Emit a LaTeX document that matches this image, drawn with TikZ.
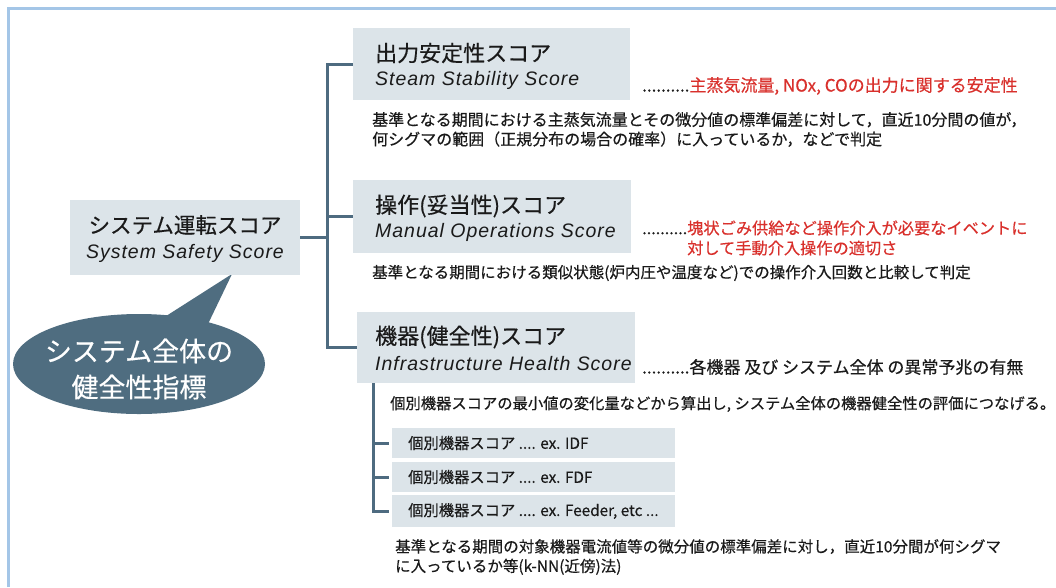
\documentclass[tikz,border=0pt]{standalone}
\usepackage{fontspec}
\setmainfont{Noto Sans CJK JP}[FakeBold=0.4]
\newfontfamily\subfont{Liberation Sans}[LetterSpace=5]
\definecolor{boxfill}{HTML}{DCE4E9}
\definecolor{connc}{HTML}{4E6B80}
\definecolor{callc}{HTML}{4F6D80}
\definecolor{framec}{HTML}{A4C6E7}
\definecolor{redc}{HTML}{D9302C}
\definecolor{textc}{HTML}{1A1A1A}
\tikzset{
  box/.style={fill=boxfill, draw=none, inner sep=0pt},
  conn/.style={draw=connc, line width=3pt},
  titletext/.style={inner sep=0pt, text=textc, font=\fontsize{22}{26}\selectfont},
  subtext/.style={inner sep=0pt, text=textc, font=\subfont\itshape\fontsize{19.5}{23}\selectfont},
  desctext/.style={inner sep=0pt, text=textc, align=left, font=\fontsize{15.5}{19.5}\selectfont},
  notetext/.style={inner sep=0pt, text=textc, align=left, font=\fontsize{17}{20}\selectfont},
  childtext/.style={inner sep=0pt, text=textc, font=\fontsize{15.3}{18}\selectfont},
}
\begin{document}
\begin{tikzpicture}[x=1pt,y=-1pt]
\useasboundingbox (0,0) rectangle (1056,587);
\fill[white] (0,0) rectangle (1056,587);
\draw[draw=framec, line width=2.7pt] (8.7,587) -- (8.7,8.7) -- (1056,8.7);

% callout
\fill[callc] (139,364) ellipse [x radius=126, y radius=50];
\fill[callc] (163,318) -- (232,274) -- (208,324) -- cycle;
\node[inner sep=0pt, text=white, align=center, font=\fontsize{27}{36}\selectfont] (call) at (139,369) {システム全体の\\健全性指標};

% root
\node[box, minimum width=230, minimum height=75] (root) at (185,237.5) {};
\node[titletext, font=\fontsize{21.5}{26}\selectfont] (roott) at (185,225) {システム運転スコア};
\node[subtext] (roots) at (185,253) {System Safety Score};

% boxes
\node[box, minimum width=277, minimum height=72] (b1) at (491.5,64) {};
\node[box, minimum width=278, minimum height=73] (b2) at (492,216.5) {};
\node[box, minimum width=278, minimum height=71] (b3) at (496,347.5) {};

\node[titletext, anchor=west] (b1t) at (375,53) {出力安定性スコア};
\node[subtext, anchor=west] (b1s) at (375,80) {Steam Stability Score};
\node[titletext, anchor=west] (b2t) at (375,206) {操作(妥当性)スコア};
\node[subtext, anchor=west] (b2s) at (375,232) {Manual Operations Score};
\node[titletext, anchor=west] (b3t) at (375,337) {機器(健全性)スコア};
\node[subtext, anchor=west] (b3s) at (375,364) {Infrastructure Health Score};

% notes
\node[notetext, anchor=west] (n1) at (642,86) {..........\textcolor{redc}{主蒸気流量, NOx, COの出力に関する安定性}};
\node[notetext, anchor=west, font=\fontsize{16.2}{20}\selectfont] (n2) at (642,238) {..........\textcolor{redc}{塊状ごみ供給など操作介入が必要なイベントに}\\\hphantom{..........}\textcolor{redc}{対して手動介入操作の適切さ}};
\node[notetext, anchor=west] (n3) at (642,367) {..........各機器 及び システム全体 の異常予兆の有無};

% descriptions
\node[desctext, anchor=west, font=\fontsize{16}{19.5}\selectfont] (d1) at (372,129.5) {基準となる期間における主蒸気流量とその微分値の標準偏差に対して，直近10分間の値が，\\何シグマの範囲（正規分布の場合の確率）に入っているか，などで判定};
\node[desctext, anchor=west] (d2) at (372,273) {基準となる期間における類似状態(炉内圧や温度など)での操作介入回数と比較して判定};
\node[desctext, anchor=west, font=\fontsize{15.3}{19.5}\selectfont] (d3) at (390,404) {個別機器スコアの最小値の変化量などから算出し, システム全体の機器健全性の評価につなげる。};

% child boxes
\node[box, minimum width=283, minimum height=30] (c1) at (533.5,443) {};
\node[box, minimum width=283, minimum height=30] (c2) at (533.5,477) {};
\node[box, minimum width=283, minimum height=32] (c3) at (533.5,511) {};
\node[childtext, anchor=west] (c1t) at (408,443) {個別機器スコア .... ex. IDF};
\node[childtext, anchor=west] (c2t) at (408,477) {個別機器スコア .... ex. FDF};
\node[childtext, anchor=west] (c3t) at (408,511) {個別機器スコア .... ex. Feeder, etc ...};

\node[desctext, anchor=west] (d4) at (395,557) {基準となる期間の対象機器電流値等の微分値の標準偏差に対し，直近10分間が何シグマ\\に入っているか等(k-NN(近傍)法)};

% connectors
\coordinate (bus) at (327,0);
\coordinate (trunk) at (373,0);
\draw[conn] (root.east) -- (root.east -| bus);
\draw[conn] (b1.west) -- (b1.west -| bus) -- (b3.west -| bus) -- (b3.west);
\draw[conn] (b2.west) -- (b2.west -| bus);
\draw[conn, shorten >=3pt] (b3.south -| trunk) |- (c3.west);
\draw[conn, shorten >=3pt] (c1.west -| trunk) -- (c1.west);
\draw[conn, shorten >=3pt] (c2.west -| trunk) -- (c2.west);
\end{tikzpicture}
\end{document}
